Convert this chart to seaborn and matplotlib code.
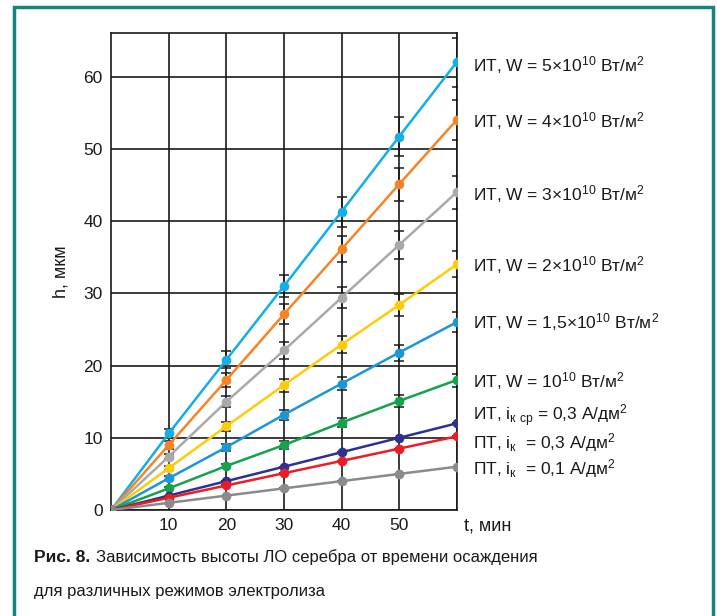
import numpy as np
import pandas as pd
import matplotlib
matplotlib.use("Agg")
import matplotlib.pyplot as plt
from matplotlib.patches import Rectangle
import seaborn as sns

# Data
t_min = [0, 10, 20, 30, 40, 50, 60]

series_names = [
    "ИТ, W = 5×10$^{10}$ Вт/м$^2$",
    "ИТ, W = 4×10$^{10}$ Вт/м$^2$",
    "ИТ, W = 3×10$^{10}$ Вт/м$^2$",
    "ИТ, W = 2×10$^{10}$ Вт/м$^2$",
    "ИТ, W = 1,5×10$^{10}$ Вт/м$^2$",
    "ИТ, W = 10$^{10}$ Вт/м$^2$",
    "ИТ, i$_{\\mathregular{к\\ ср}}$ = 0,3 А/дм$^2$",
    "ПТ, i$_{\\mathregular{к}}$  = 0,3 А/дм$^2$",
    "ПТ, i$_{\\mathregular{к}}$  = 0,1 А/дм$^2$",
]

h_w5 = [0, 10.6, 20.8, 31.0, 41.3, 51.7, 62.0]
h_w4 = [0, 9.0, 18.0, 27.1, 36.1, 45.1, 54.0]
h_w3 = [0, 7.4, 15.0, 22.1, 29.4, 36.7, 44.0]
h_w2 = [0, 5.8, 11.6, 17.3, 22.9, 28.4, 34.0]
h_w15 = [0, 4.4, 8.7, 13.2, 17.5, 21.8, 26.0]
h_w1 = [0, 3.0, 6.1, 9.0, 12.1, 15.1, 18.0]
h_it03 = [0, 2.0, 4.0, 6.0, 8.0, 10.0, 12.0]
h_pt03 = [0, 1.7, 3.4, 5.1, 6.8, 8.5, 10.2]
h_pt01 = [0, 1.0, 2.0, 3.0, 4.0, 5.0, 6.0]

err_w5 = [0, 0.6, 1.2, 1.5, 2.1, 2.7, 3.4]
err_w4 = [0, 0.5, 1.0, 1.4, 1.8, 2.3, 2.8]
err_w3 = [0, 0.4, 0.8, 1.2, 1.5, 1.9, 2.3]
err_w2 = [0, 0.3, 0.6, 0.9, 1.2, 1.5, 1.8]
err_w15 = [0, 0.3, 0.5, 0.7, 0.9, 1.1, 1.4]
err_w1 = [0, 0.2, 0.3, 0.5, 0.6, 0.8, 0.9]
err_it03 = [0, 0, 0, 0, 0, 0, 0]
err_pt03 = [0, 0, 0, 0, 0, 0, 0]
err_pt01 = [0, 0, 0, 0, 0, 0, 0]

all_h = [h_w5, h_w4, h_w3, h_w2, h_w15, h_w1, h_it03, h_pt03, h_pt01]
all_err = [err_w5, err_w4, err_w3, err_w2, err_w15, err_w1, err_it03, err_pt03, err_pt01]

colors = ["#14aee8", "#f58426", "#a8a9ab", "#ffcb08", "#1d96d6",
          "#14a24b", "#2e3192", "#ec1c24", "#8b8b8d"]

# label baselines (in data units of h)
label_y = [60.7, 52.9, 42.9, 33.0, 25.2, 17.0, 12.4, 8.6, 4.9]

df = pd.DataFrame({
    "t": t_min * len(series_names),
    "h": np.concatenate(all_h),
    "series": np.repeat(series_names, len(t_min)),
})

sns.set_style("white")
plt.rcParams["font.family"] = ["Liberation Sans", "DejaVu Sans"]
plt.rcParams["mathtext.default"] = "regular"
plt.rcParams["mathtext.fontset"] = "custom"
plt.rcParams["mathtext.rm"] = "Liberation Sans"

fig = plt.figure(figsize=(7.17, 6.16), dpi=100)
ax = fig.add_axes([0.155, 0.172, 0.482, 0.774])

# error bars first, black, under the lines
for h, e in zip(all_h, all_err):
    ax.errorbar(t_min, h, yerr=e, fmt="none", ecolor="#1a1a1a",
                elinewidth=1.1, capsize=3.5, capthick=1.1, zorder=2)

sns.lineplot(data=df, x="t", y="h", hue="series", hue_order=series_names,
             palette=colors, marker="o", markersize=7, markeredgewidth=0,
             linewidth=1.8, legend=False, ax=ax, zorder=3)

for name, ly in zip(series_names, label_y):
    ax.annotate(name, xy=(60, ly), xytext=(12, 0), textcoords="offset points",
                va="baseline", ha="left", fontsize=12.5, color="#1a1a1a",
                annotation_clip=False)

ax.set_xlim(0, 60)
ax.set_ylim(0, 66)
ax.set_xticks([10, 20, 30, 40, 50])
ax.set_yticks([0, 10, 20, 30, 40, 50, 60])
ax.set_xticks([60], minor=True)
ax.grid(True, which="both", color="#1a1a1a", linewidth=1.2)
ax.tick_params(length=0, labelsize=12.5, colors="#1a1a1a", pad=6)
for sp in ax.spines.values():
    sp.set_color("#1a1a1a")
    sp.set_linewidth(1.2)
ax.set_xlabel("")
ax.set_ylabel("h, мкм", fontsize=13, color="#1a1a1a", labelpad=10)
ax.text(1.02, -0.033, "t, мин", transform=ax.transAxes, ha="left", va="center",
        fontsize=13, color="#1a1a1a")

# caption
fig.text(0.047, 0.088, "Рис. 8.", fontsize=12.5, fontweight="bold",
         color="#1a1a1a")
fig.text(0.134, 0.088, "Зависимость высоты ЛО серебра от времени осаждения",
         fontsize=12, color="#1a1a1a")
fig.text(0.047, 0.032, "для различных режимов электролиза",
         fontsize=12, color="#1a1a1a")

# frame
fig.patches.append(Rectangle((0.019, -0.05), 0.975, 1.039, transform=fig.transFigure,
                             fill=False, edgecolor="#138580", linewidth=2.5))

fig.savefig("out.png", dpi=100)
